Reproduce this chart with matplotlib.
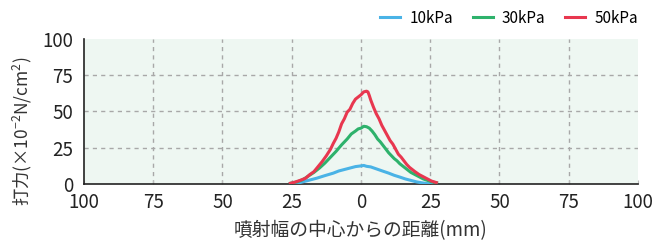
import matplotlib

matplotlib.use("Agg")
import matplotlib.pyplot as plt
from matplotlib.ticker import FuncFormatter

plt.rcParams["font.family"] = ["Noto Sans CJK JP", "DejaVu Sans"]
plt.rcParams["mathtext.fontset"] = "custom"
plt.rcParams["mathtext.rm"] = "Noto Sans CJK JP"
plt.rcParams["mathtext.it"] = "Noto Sans CJK JP"
plt.rcParams["mathtext.default"] = "rm"

# distance from the spray centre (mm) and impact force (x10^-2 N/cm2)
red_x = [-25.5, -24, -22, -20, -18.5, -17, -15.5, -14, -12.5, -11, -10, -9, -8, -7,
         -6, -5, -4, -3, -2, -1, 0, 0.5, 1, 2, 2.5, 3, 3.5, 4.5, 5.5, 6.5, 7.5, 8.5,
         9.5, 10.5, 11.5, 12.5, 13.5, 14.5, 15.5, 16.5, 17.5, 18.5, 19.5, 21, 22.5,
         24, 25.5, 27.2]
red_y = [0.5, 1.2, 2.5, 4, 6.5, 8.5, 12, 15.5, 19.5, 24, 28, 31.5, 36, 41.5,
         45, 49.5, 51.5, 55.5, 58.5, 60, 61.5, 62.5, 63.5, 64, 63.5, 61, 58, 53, 48.5,
         45, 40.5, 37, 33.5, 30, 27.5, 24, 20.5, 18.5, 16, 13.5, 11.5, 10, 8.5, 6.5,
         5, 3.5, 2, 1]

green_x = [-25.5, -23, -21, -19, -17, -15, -13, -11, -9, -7, -5, -3.5, -2, -1, 0, 1,
           2, 3, 4, 5, 6, 7, 8, 9, 10, 11, 12, 13, 14, 15, 16, 17, 18, 19.5, 21, 22.5,
           24, 25.5, 27.3]
green_y = [0.5, 1.5, 3, 5.5, 8, 11, 14.5, 18.5, 22.5, 27, 31, 34.5, 36.5, 38, 38.5,
           39.8, 39.5, 38.5, 36.5, 34, 31, 29, 26.5, 24, 21.5, 19.5, 17.5, 16, 14,
           12.5, 11, 9.5, 8, 6.5, 5, 3.5, 2.5, 1.5, 0.8]

blue_x = [-25, -22, -19, -16, -13, -10, -8, -6, -4, -2, 0, 1, 2, 3.5, 5, 6.5, 8, 10,
          12, 14, 16, 18, 20, 22, 24, 25.5]
blue_y = [0.2, 1, 2.5, 4, 5.8, 7.5, 9, 10, 11, 12, 12.5, 12.8, 12.2, 11.8, 10.8, 9.8,
          8.8, 7.5, 6, 4.8, 3.5, 2.5, 1.5, 0.8, 0.3, 0]

series = [
    ("10kPa", blue_x, blue_y, "#4ab3e6"),
    ("30kPa", green_x, green_y, "#2eb26c"),
    ("50kPa", red_x, red_y, "#e8374f"),
]

x_ticks = [-100, -75, -50, -25, 0, 25, 50, 75, 100]
y_ticks = [0, 25, 50, 75, 100]

fig = plt.figure(figsize=(6.65, 2.48), dpi=100)
ax = fig.add_axes([0.1263, 0.258, 0.8331, 0.585])
ax.set_facecolor("#eef7f2")

for x in x_ticks[1:-1]:
    ax.axvline(x, color="#a8a8a8", linewidth=1, linestyle=(0, (3, 3)), zorder=1)
for y in y_ticks[1:-1]:
    ax.axhline(y, color="#a8a8a8", linewidth=1, linestyle=(0, (3, 3)), zorder=1)

for label, xs, ys, color in series:
    ax.plot(xs, ys, color=color, linewidth=2.2, label=label, zorder=3)

ax.set_xlim(-100, 100)
ax.set_ylim(0, 100)
ax.set_xticks(x_ticks)
ax.set_yticks(y_ticks)
ax.xaxis.set_major_formatter(FuncFormatter(lambda v, _: f"{abs(v):.0f}"))

for side in ("top", "right"):
    ax.spines[side].set_visible(False)
for side in ("left", "bottom"):
    ax.spines[side].set_color("#222222")
    ax.spines[side].set_linewidth(1.2)

ax.tick_params(axis="x", direction="in", length=3, color="#bbbbbb",
               labelsize=13.5, pad=6, labelcolor="#222222")
ax.tick_params(axis="y", length=0, labelsize=13.5, pad=8, labelcolor="#222222")

ax.set_xlabel("噴射幅の中心からの距離(mm)", fontsize=13.5, color="#333333", labelpad=5)
ax.set_ylabel(r"打力(×10$^{-2}$N/cm$^{2}$)", fontsize=12.5, color="#333333")
ax.yaxis.set_label_coords(-0.091, 0.36)

ax.legend(loc="lower right", bbox_to_anchor=(1.0, 1.085), ncol=3, frameon=False,
          fontsize=11, handlelength=1.3, handletextpad=0.6, columnspacing=1.3,
          borderaxespad=0, borderpad=0)

fig.savefig("out.png", dpi=100)
